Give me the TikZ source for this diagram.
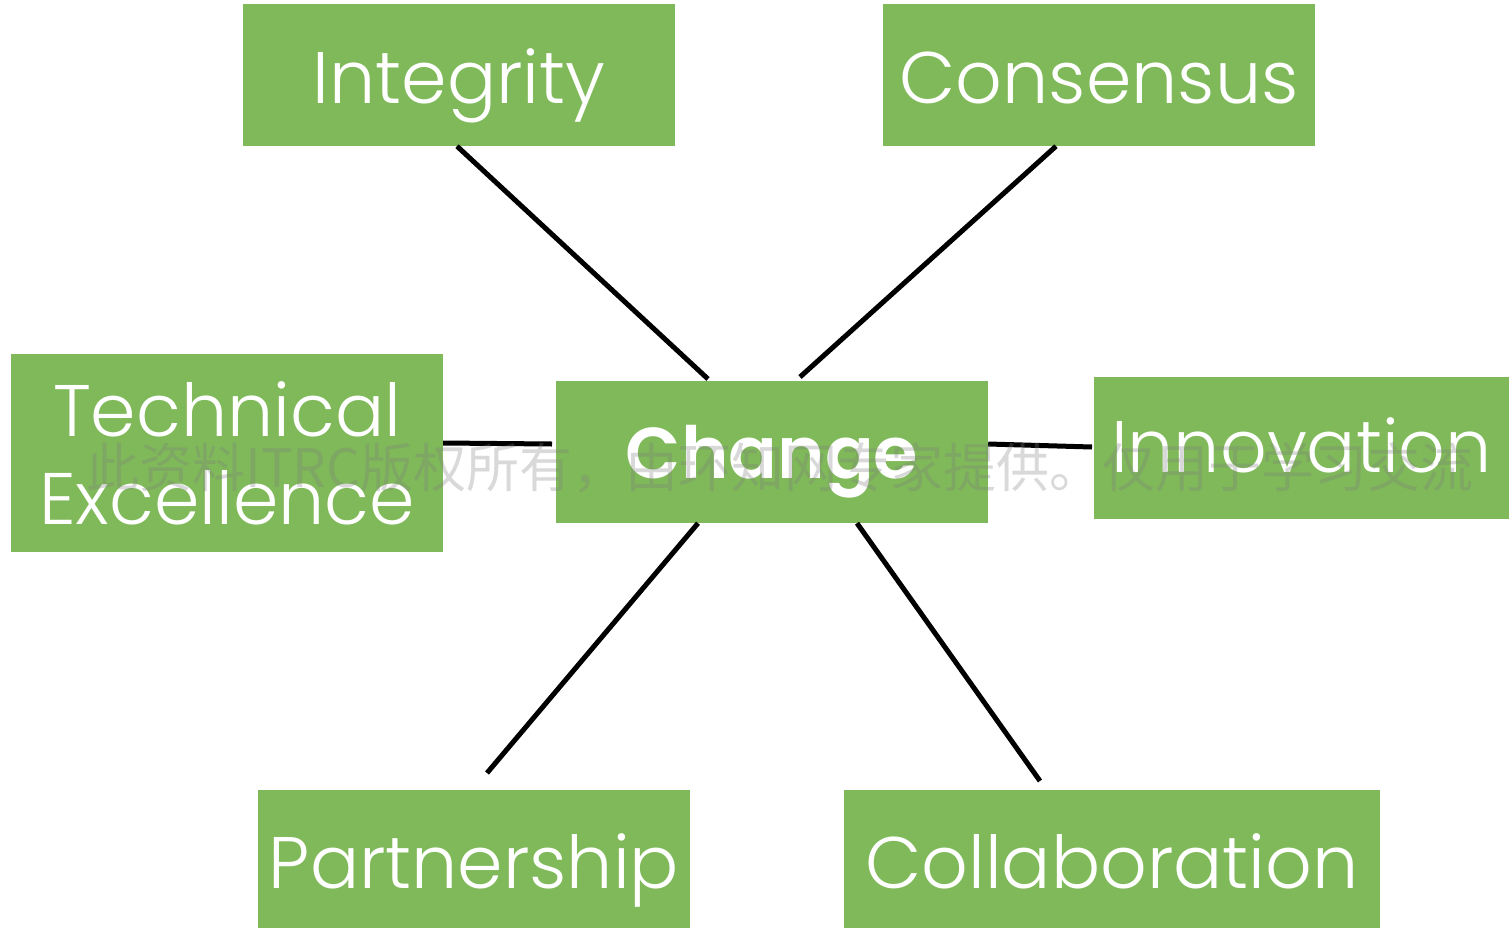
\documentclass[tikz,border=0pt]{standalone}
\usepackage{fontspec}
\setmainfont{Poppins Light}
\newfontfamily\boldfnt{Poppins SemiBold}
\newfontfamily\cjk{Noto Sans CJK SC}
\definecolor{boxgreen}{RGB}{127,185,89}
\tikzset{
  boxbase/.style={fill=boxgreen, text=white, inner sep=0pt, minimum height=142pt, font=\fontsize{73}{88}\selectfont, align=center},
  box/.style={boxbase, text depth=0pt, text height=#1},
  link/.style={line width=5pt, black},
  watermark/.style={text=gray, opacity=0.3, font=\cjk\fontsize{53}{56}\selectfont, inner sep=0pt}
}
\begin{document}
\begin{tikzpicture}[x=1pt,y=-1pt]
\useasboundingbox (0,0) rectangle (1509,929);
\node[box=56pt, minimum width=432pt] (int) at (459,75) {Integrity};
\node[box=56pt, minimum width=432pt] (con) at (1099,75) {Consensus};
\node[boxbase, minimum width=432pt, minimum height=198pt] (tech) at (227,453) {Technical\\Excellence};
\node[box=52pt, minimum width=432pt, font=\boldfnt\fontsize{72}{88}\selectfont] (chg) at (772,452) {Change};
\node[box=48pt, minimum width=415pt] (inn) at (1301.5,448) {Innovation};
\node[box=58pt, minimum width=432pt, minimum height=138pt] (par) at (474,859) {Partnership};
\node[box=58pt, minimum width=536pt, minimum height=138pt] (col) at (1112,859) {Collaboration};
\coordinate (a1) at (708,379);
\coordinate (a2) at (800,377);
\coordinate (a3) at (552,444);
\coordinate (a4) at (1092,447);
\coordinate (a5) at (487,773);
\coordinate (a6) at (1040,781);
\draw[link] (int.south -| 457,0) -- (a1);
\draw[link] (con.south -| 1056,0) -- (a2);
\draw[link] (tech.east |- 0,443) -- (a3);
\draw[link] (chg.east |- 0,444) -- (a4);
\draw[link] (chg.south -| 698,0) -- (a5);
\draw[link] (chg.south -| 857,0) -- (a6);
\node[watermark] (wm) at (780,468) {此资料ITRC版权所有，由环知网专家提供。仅用于学习交流};
\end{tikzpicture}
\end{document}
